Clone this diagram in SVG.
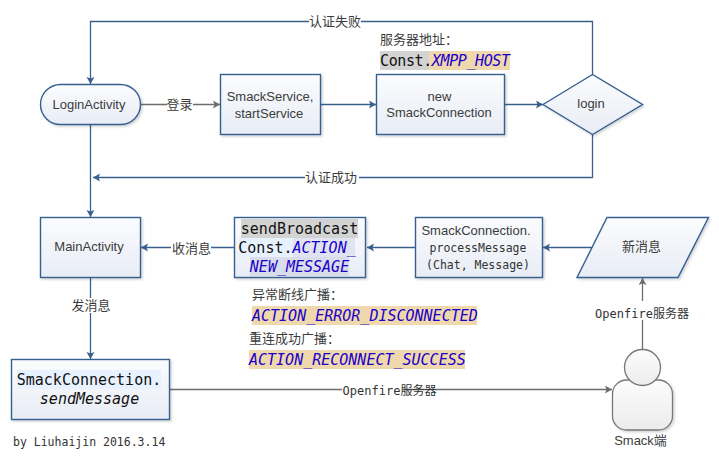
<svg xmlns="http://www.w3.org/2000/svg" width="719" height="464" viewBox="0 0 719 464">
<style>
.n{fill:url(#g);stroke:#355e8f;stroke-width:1.4;filter:url(#s)}
.c{fill:none;stroke:#3a5f8d;stroke-width:1.3}
.k{fill:none;stroke:#6e6e6e;stroke-width:1.3}
text{font-family:"Liberation Sans","Noto Sans CJK SC",sans-serif;font-size:13px;fill:#3c3c3c;text-anchor:middle}
.m{font-family:"DejaVu Sans Mono","Noto Sans CJK SC",monospace;font-size:15px;fill:#111}
.i{font-style:italic;fill:#1a00c8}
.b{font-family:"DejaVu Sans Mono","Noto Sans CJK SC",monospace;font-size:11.500px;fill:#333}
.o{font-family:"DejaVu Sans Mono","Noto Sans CJK SC",monospace;font-size:12px;fill:#333}
.l{fill:#fff}
</style>
<defs>
<linearGradient id="g" x1="0" y1="0" x2="0" y2="1"><stop offset="0" stop-color="#fbfcfe"/><stop offset="1" stop-color="#e8ecf5"/></linearGradient>
<linearGradient id="h" x1="0" y1="0" x2="0" y2="1"><stop offset="0" stop-color="#fcfcfc"/><stop offset="1" stop-color="#ececec"/></linearGradient>
<filter id="s" x="-10%" y="-10%" width="120%" height="125%"><feDropShadow dx="1.5" dy="1.5" stdDeviation="1" flood-color="#000" flood-opacity="0.18"/></filter>
<marker id="a" markerUnits="userSpaceOnUse" markerWidth="9" markerHeight="10" refX="7" refY="4" orient="auto"><path d="M0 0L7 4L0 8L1.500 4Z" fill="#3a5f8d"/></marker>
<marker id="b" markerUnits="userSpaceOnUse" markerWidth="9" markerHeight="10" refX="7" refY="4" orient="auto"><path d="M0 0L7 4L0 8L1.500 4Z" fill="#6e6e6e"/></marker>
</defs>
<g id="connectors">
<path class="c" d="M592.500 75V21.500H90.500V84" marker-end="url(#a)"/>
<path class="c" d="M592.500 134V177.500H93" marker-end="url(#a)"/>
<path class="c" d="M90.500 124V217" marker-end="url(#a)"/>
<path class="k" d="M140.500 104.500H220" marker-end="url(#b)"/>
<path class="c" d="M320.500 104.500H376" marker-end="url(#a)"/>
<path class="c" d="M504.500 104.500H543" marker-end="url(#a)"/>
<path class="c" d="M234.500 247.500H141" marker-end="url(#a)"/>
<path class="c" d="M415.500 247.500H367" marker-end="url(#a)"/>
<path class="c" d="M592 247.500H543" marker-end="url(#a)"/>
<path class="c" d="M90.500 277.500V359" marker-end="url(#a)"/>
<path class="k" d="M169.500 389.500H612" marker-end="url(#b)"/>
<path class="k" d="M642.500 349V278" marker-end="url(#b)"/>
<rect class="l" x="309" y="14" width="52" height="15"/>
<text x="335" y="26">认证失败</text>
<rect class="l" x="305" y="170" width="54" height="15"/>
<text x="331" y="182">认证成功</text>
<rect class="l" x="167" y="97" width="26" height="15"/>
<text x="179.500" y="109">登录</text>
<rect class="l" x="171" y="240" width="40" height="15"/>
<text x="191.500" y="253">收消息</text>
<rect class="l" x="71" y="298" width="40" height="15"/>
<text x="91" y="310">发消息</text>
<rect class="l" x="342" y="384" width="60" height="11"/>
<text class="o" x="389.500" y="395">Openfire服务器</text>
<rect class="l" x="593" y="301" width="98" height="19"/>
<text class="o" x="642" y="318">Openfire服务器</text>
</g>
<g id="login-activity">
<rect class="n" x="40.500" y="84.500" width="100" height="40" rx="20"/>
<text x="89" y="109">LoginActivity</text>
</g>
<g id="smack-service">
<rect class="n" x="220.500" y="74.500" width="100" height="60"/>
<text x="270" y="101">SmackService,</text>
<text x="269" y="118">startService</text>
</g>
<g id="new-connection">
<rect class="n" x="376.500" y="74.500" width="128" height="60"/>
<text x="439.500" y="101">new</text>
<text x="439" y="117">SmackConnection</text>
</g>
<g id="login">
<path class="n" d="M543 104.500L592.500 74.500L642.500 104.500L592.500 134.500Z"/>
<text x="591" y="108">login</text>
</g>
<g id="server-address">
<text x="380" y="44" style="text-anchor:start">服务器地址：</text>
<rect x="380" y="51" width="49" height="19" fill="#d3d3d3"/>
<rect x="429" y="51" width="81" height="19" fill="#efd8ae"/>
<text class="m" x="380" y="66" style="text-anchor:start" textLength="130">Const.<tspan class="i">XMPP_HOST</tspan></text>
</g>
<g id="main-activity">
<rect class="n" x="40.500" y="217.500" width="100" height="60"/>
<text x="89" y="251">MainActivity</text>
</g>
<g id="send-broadcast">
<rect class="n" x="234.500" y="217.500" width="131" height="60"/>
<rect x="241" y="219" width="117" height="19" fill="#d3d3d3"/>
<rect x="239" y="238" width="54" height="19" fill="#e8f2fe"/>
<rect x="293" y="238" width="62" height="19" fill="#e0e4f0"/>
<rect x="250" y="257" width="99" height="19" fill="#d9dcea"/>
<text class="m" x="299.500" y="234">sendBroadcast</text>
<text class="m" x="297" y="253">Const.<tspan class="i">ACTION_</tspan></text>
<text class="m i" x="299.500" y="272">NEW_MESSAGE</text>
</g>
<g id="process-message">
<rect class="n" x="415.500" y="217.500" width="127" height="60"/>
<text x="476" y="235">SmackConnection.</text>
<text class="b" x="478" y="252">processMessage</text>
<text class="b" x="478" y="269">(Chat, Message)</text>
</g>
<g id="new-message">
<path class="n" d="M607 217.500H708.500L678 277.500H577Z"/>
<text x="641.500" y="251">新消息</text>
</g>
<g id="send-message">
<rect class="n" x="11.500" y="359.500" width="158" height="60"/>
<rect x="17" y="370" width="144" height="19" fill="#e8f2fe"/>
<text class="m" x="89" y="385">SmackConnection.</text>
<text class="m" x="89.500" y="404" font-style="italic">sendMessage</text>
</g>
<g id="broadcast-notes">
<text x="252" y="299" style="text-anchor:start">异常断线广播：</text>
<rect x="252" y="306" width="225" height="19" fill="#efd8ae"/>
<text class="m i" x="252" y="321" style="text-anchor:start">ACTION_ERROR_DISCONNECTED</text>
<text x="249" y="343" style="text-anchor:start">重连成功广播：</text>
<rect x="249" y="350" width="216" height="19" fill="#efd8ae"/>
<text class="m i" x="249" y="365" style="text-anchor:start">ACTION_RECONNECT_SUCCESS</text>
</g>
<g id="smack-user">
<rect x="612.500" y="380" width="60" height="50" rx="14" fill="url(#h)" stroke="#777" stroke-width="1.300" filter="url(#s)"/>
<circle cx="642.500" cy="367.500" r="18" fill="url(#h)" stroke="#777" stroke-width="1.300"/>
<text x="640.500" y="445">Smack端</text>
</g>
<g id="credit">
<text class="b" x="13" y="446" style="text-anchor:start">by Liuhaijin 2016.3.14</text>
</g>
</svg>
